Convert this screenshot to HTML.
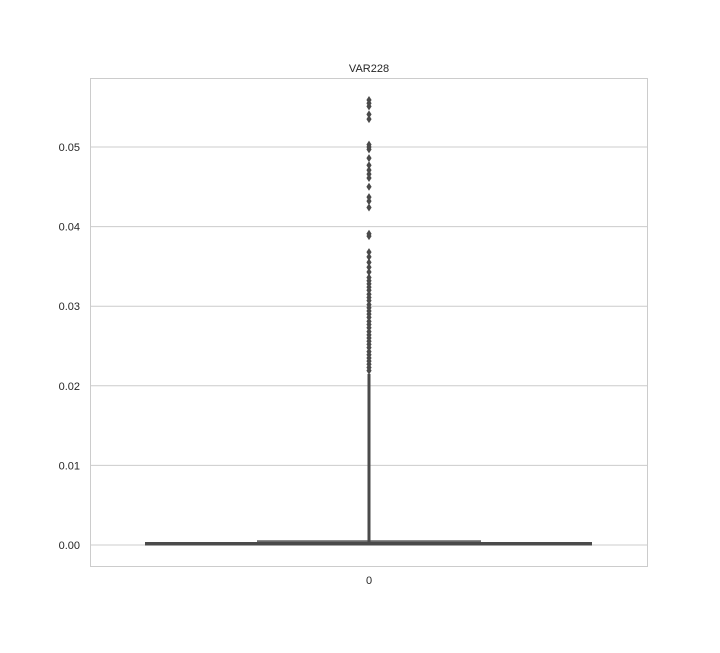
<!DOCTYPE html>
<html><head><meta charset="utf-8"><style>
body{margin:0;background:#fff;font-family:"Liberation Sans",sans-serif}
svg text{font-family:"Liberation Sans","DejaVu Sans",sans-serif;font-size:11px;fill:#262626}
</style></head><body>
<svg id="chart" width="720" height="648" xmlns="http://www.w3.org/2000/svg">
<rect x="0" y="0" width="720" height="648" fill="#fff"/>
<g id="grid"></g>
<rect x="90.5" y="78.5" width="557" height="488" fill="none" stroke="#cccccc"/>
<text x="369" y="72" text-anchor="middle" font-size="12">VAR228</text>
<g id="marks"></g>
<text x="369" y="584" text-anchor="middle">0</text>
</svg>
<script>
const yTicks=[0,0.01,0.02,0.03,0.04,0.05];
const yTickLabels=["0.00","0.01","0.02","0.03","0.04","0.05"];
const categories=["0"];
const q1=[0.0000],q3=[0.0006],median=[0.0001],whiskerLow=[0.0000],whiskerHigh=[0.0215];
const fliers=[0.0559,0.0555,0.0551,0.0541,0.0535,0.0503,0.0500,0.0497,0.0486,0.0477,0.0471,0.0466,0.0461,0.0450,0.0437,0.0432,0.0424,0.0391,0.0388,0.0368,0.0362,0.0355,0.0349,0.0343,0.0336,0.0332,0.0328,0.0324,0.0320,0.0315,0.0311,0.0307,0.0302,0.0298,0.0294,0.0290,0.0286,0.0281,0.0277,0.0273,0.0268,0.0264,0.0260,0.0256,0.0252,0.0248,0.0243,0.0239,0.0235,0.0231,0.0227,0.0223,0.0219];
const y=v=>545-v*7960;
const x=i=>369;
const NS="http://www.w3.org/2000/svg";
function mk(t,a,p){const e=document.createElementNS(NS,t);for(const k in a)e.setAttribute(k,a[k]);p.appendChild(e);return e;}
const g=document.getElementById('grid'),m=document.getElementById('marks'),svg=document.getElementById('chart');
yTicks.forEach((v,i)=>{
 const l=mk('line',{x1:91,x2:647,y1:y(v),y2:y(v),stroke:'#cccccc'},g);
 
 
 const t=mk('text',{x:80,y:y(v)+4,'text-anchor':'end'},svg);
 t.textContent=yTickLabels[i];
 
 
});
categories.forEach((c,i)=>{
 const cx=x(i);
 const box=mk('rect',{x:cx-112,y:y(q3[i]),width:224,height:Math.max(2,y(q1[i])-y(q3[i])),fill:'#6b6b6b'},m);
 
 
 const cap=mk('rect',{x:cx-224,y:y(whiskerLow[i])-3,width:447,height:3.5,fill:'#4a4a4a'},m);
 
 
 const w=mk('line',{x1:cx,x2:cx,y1:y(whiskerLow[i]),y2:y(whiskerHigh[i]),stroke:'#4a4a4a','stroke-width':3},m);
 
 
 fliers.forEach(v=>{
  const py=y(v);
  const d=mk('path',{d:`M${cx} ${py-4}L${cx+2.6} ${py}L${cx} ${py+4}L${cx-2.6} ${py}Z`,fill:'#4a4a4a'},m);
  
  
 });
});
</script>
</body></html>
